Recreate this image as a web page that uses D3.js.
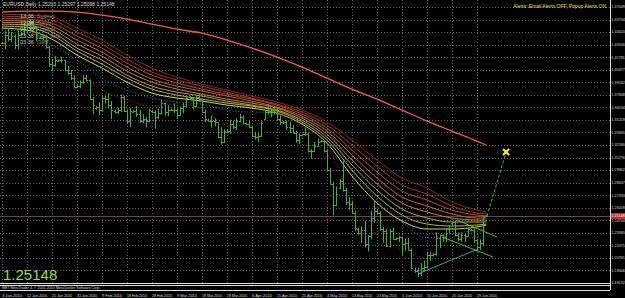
<!DOCTYPE html>
<html><head><meta charset="utf-8">
<script src="https://cdn.jsdelivr.net/npm/d3@7"></script>
<style>html,body{margin:0;padding:0;background:#000;overflow:hidden}svg{display:block}</style>
</head><body><svg id="c" width="625" height="298"></svg>
<script>
// ---------- DATA ----------
const dateLabels = ["3 Jan 2010","12 Jan 2010","21 Jan 2010","31 Jan 2010","9 Feb 2010","18 Feb 2010","28 Feb 2010","9 Mar 2010","18 Mar 2010","28 Mar 2010","6 Apr 2010","15 Apr 2010","25 Apr 2010","4 May 2010","13 May 2010","23 May 2010","1 Jun 2010","10 Jun 2010","20 Jun 2010","29 Jun 2010"];
const labelIdx = [0,8,16,24,32,40,48,56,64,72,80,88,96,104,112,120,128,136,144,152];
const priceTicks = [1.18132,1.19446,1.20761,1.22075,1.23390,1.24704,1.26018,1.27333,1.28647,1.29962,1.31276,1.32590,1.33905,1.35219,1.36534,1.37848,1.39162,1.40477,1.41791,1.43106,1.44420,1.45734,1.47049];
const lastPrice = 1.25148;
const headerText = "EURUSD,Daily  1.25203 1.25297 1.25098 1.25148";
const alertText = "Alerts: Email Alerts OFF, Popup Alerts ON";
const clockTimes = ["13:36","12:36","04:36","23:36","03:36"];
const clockNames = ["Sydney","Tokyo","London","New York","GMT"];
const copyright = "MBT MetaTrader 4, \u00a9 2001-2010 MetaQuotes Software Corp.";

const open = [
1.4325,1.4330,1.4415,1.4365,1.4405,1.4310, 1.4410,1.4435,1.4515,1.4495,1.4545,1.4495,
1.4380,1.4385,1.4390,1.4285,1.4105,1.4095, 1.4140,1.4150,1.4145,1.4040,1.4015,1.3960,
1.3870,1.3880,1.3920,1.3960,1.3935,1.3745, 1.3650,1.3655,1.3625,1.3755,1.3740,1.3675,
1.3620,1.3600,1.3630,1.3765,1.3620,1.3510, 1.3610,1.3620,1.3580,1.3510,1.3530,1.3515,
1.3620,1.3605,1.3550,1.3590,1.3700,1.3610, 1.3625,1.3630,1.3630,1.3575,1.3645,1.3665,
1.3765,1.3750,1.3665,1.3760,1.3740,1.3605, 1.3525,1.3515,1.3515,1.3495,1.3345,1.3290,
1.3400,1.3405,1.3480,1.3450,1.3510,1.3555, 1.3485,1.3480,1.3450,1.3355,1.3345,1.3355,
1.3530,1.3600,1.3610,1.3605,1.3630,1.3535, 1.3505,1.3495,1.3445,1.3440,1.3385,1.3310,
1.3360,1.3370,1.3375,1.3200,1.3195,1.3250, 1.3300,1.3300,1.3200,1.3000,1.2850,1.2635,
1.2810,1.2880,1.2790,1.2665,1.2640,1.2550, 1.2380,1.2340,1.2365,1.2225,1.2305,1.2490,
1.2570,1.2545,1.2380,1.2360,1.2200,1.2360, 1.2275,1.2280,1.2295,1.2225,1.2235,1.2160,
1.1950,1.1940,1.1915,1.1975,1.1985,1.2105, 1.2110,1.2115,1.2285,1.2315,1.2295,1.2375,
1.2440,1.2450,1.2315,1.2275,1.2315,1.2310, 1.2370,1.2365,1.2265,1.2190,1.2235,1.2520];
const high = [
1.4340,1.4450,1.4485,1.4445,1.4420,1.4460, 1.4440,1.4535,1.4550,1.4579,1.4565,1.4505,
1.4395,1.4420,1.4405,1.4295,1.4160,1.4190, 1.4155,1.4185,1.4150,1.4090,1.4045,1.3990,
1.3890,1.3935,1.3990,1.3995,1.3945,1.3760, 1.3665,1.3705,1.3780,1.3775,1.3800,1.3720,
1.3630,1.3650,1.3790,1.3775,1.3630,1.3645, 1.3625,1.3670,1.3625,1.3580,1.3550,1.3640,
1.3630,1.3620,1.3640,1.3735,1.3705,1.3675, 1.3640,1.3695,1.3635,1.3660,1.3700,1.3765,
1.3775,1.3755,1.3775,1.3795,1.3745,1.3630, 1.3535,1.3565,1.3540,1.3500,1.3445,1.3425,
1.3415,1.3525,1.3515,1.3540,1.3585,1.3570, 1.3495,1.3515,1.3460,1.3395,1.3385,1.3510,
1.3620,1.3690,1.3635,1.3650,1.3640,1.3570, 1.3515,1.3515,1.3505,1.3470,1.3410,1.3380,
1.3375,1.3440,1.3390,1.3215,1.3290,1.3325, 1.3310,1.3310,1.3215,1.3020,1.2875,1.2825,
1.2900,1.3095,1.2810,1.2715,1.2670,1.2570, 1.2395,1.2405,1.2465,1.2315,1.2570,1.2675,
1.2585,1.2565,1.2400,1.2380,1.2375,1.2395, 1.2290,1.2310,1.2300,1.2280,1.2285,1.2175,
1.1975,1.1975,1.2020,1.2045,1.2140,1.2140, 1.2125,1.2345,1.2320,1.2320,1.2385,1.2415,
1.2460,1.2470,1.2340,1.2345,1.2330,1.2385, 1.2380,1.2395,1.2275,1.2270,1.2515,1.2530];
const low = [
1.4315,1.4260,1.4345,1.4335,1.4263,1.4262, 1.4405,1.4410,1.4425,1.4460,1.4465,1.4345,
1.4370,1.4355,1.4270,1.4080,1.4030,1.4080, 1.4130,1.4120,1.4030,1.3995,1.3940,1.3855,
1.3860,1.3855,1.3900,1.3925,1.3730,1.3580, 1.3630,1.3575,1.3610,1.3695,1.3640,1.3530,
1.3590,1.3580,1.3605,1.3605,1.3480,1.3445, 1.3600,1.3555,1.3490,1.3485,1.3445,1.3500,
1.3595,1.3430,1.3530,1.3580,1.3565,1.3560, 1.3615,1.3595,1.3530,1.3565,1.3590,1.3660,
1.3740,1.3630,1.3655,1.3710,1.3595,1.3500, 1.3505,1.3440,1.3455,1.3330,1.3265,1.3280,
1.3390,1.3375,1.3425,1.3415,1.3500,1.3475, 1.3470,1.3435,1.3345,1.3315,1.3290,1.3345,
1.3520,1.3580,1.3550,1.3580,1.3515,1.3470, 1.3480,1.3415,1.3385,1.3380,1.3285,1.3270,
1.3350,1.3355,1.3180,1.3115,1.3185,1.3240, 1.3285,1.3180,1.2990,1.2845,1.2520,1.2620,
1.2800,1.2770,1.2630,1.2580,1.2535,1.2355, 1.2320,1.2235,1.2185,1.2145,1.2270,1.2445,
1.2530,1.2355,1.2235,1.2190,1.2185,1.2270, 1.2260,1.2240,1.2110,1.2150,1.2155,1.1960,
1.1920,1.1876,1.1885,1.1930,1.1965,1.2045, 1.2090,1.2100,1.2180,1.2245,1.2240,1.2335,
1.2420,1.2300,1.2250,1.2245,1.2245,1.2300, 1.2355,1.2235,1.2150,1.2160,1.2205,1.2510];
const close = [
1.4330,1.4415,1.4365,1.4405,1.4310,1.4415, 1.4435,1.4515,1.4495,1.4545,1.4495,1.4375,
1.4385,1.4390,1.4285,1.4105,1.4095,1.4145, 1.4150,1.4145,1.4040,1.4015,1.3960,1.3865,
1.3880,1.3920,1.3960,1.3935,1.3745,1.3675, 1.3655,1.3625,1.3755,1.3740,1.3675,1.3625,
1.3600,1.3630,1.3765,1.3620,1.3510,1.3615, 1.3620,1.3580,1.3510,1.3530,1.3515,1.3625,
1.3605,1.3550,1.3590,1.3700,1.3610,1.3625, 1.3630,1.3630,1.3575,1.3645,1.3665,1.3750,
1.3750,1.3665,1.3760,1.3740,1.3605,1.3530, 1.3515,1.3515,1.3495,1.3345,1.3290,1.3405,
1.3405,1.3480,1.3450,1.3510,1.3555,1.3485, 1.3480,1.3450,1.3355,1.3345,1.3355,1.3490,
1.3600,1.3610,1.3605,1.3630,1.3535,1.3505, 1.3495,1.3445,1.3440,1.3385,1.3310,1.3365,
1.3370,1.3375,1.3200,1.3195,1.3250,1.3295, 1.3300,1.3200,1.3000,1.2850,1.2635,1.2750,
1.2880,1.2790,1.2665,1.2640,1.2550,1.2385, 1.2340,1.2365,1.2225,1.2305,1.2490,1.2570,
1.2545,1.2380,1.2360,1.2200,1.2360,1.2275, 1.2280,1.2295,1.2225,1.2235,1.2160,1.1970,
1.1940,1.1915,1.1975,1.1985,1.2105,1.2110, 1.2115,1.2285,1.2315,1.2295,1.2375,1.2385,
1.2450,1.2315,1.2275,1.2315,1.2310,1.2375, 1.2365,1.2265,1.2190,1.2235,1.2505,1.25148];

// moving-average lines, sampled at these bar indices (values in price)
const maIdx = [0,8,16,24,32,40,48,56,64,72,80,88,96,104,112,120,128,136,144,152,155];
const ma200 = [1.4651,1.4662,1.4662,1.4651,1.4620,1.4578,1.4526,1.4473,1.4431,1.4358,1.4274,1.4180,1.4075,1.3960,1.3845,1.3740,1.3625,1.3510,1.3405,1.3300,1.3258];
const ribbon = [
 [1.4630,1.4620,1.4599,1.4484,1.4358,1.4201,1.4065,1.3970,1.3897,1.3834,1.3772,1.3709,1.3625,1.3499,1.3311,1.3101,1.2913,1.2808,1.2661,1.2578,1.2557],
 [1.4609,1.4599,1.4567,1.4442,1.4316,1.4159,1.4023,1.3939,1.3876,1.3813,1.3751,1.3688,1.3604,1.3468,1.3258,1.3038,1.2840,1.2745,1.2620,1.2546,1.2536],
 [1.4588,1.4578,1.4536,1.4400,1.4274,1.4117,1.3991,1.3908,1.3845,1.3792,1.3740,1.3677,1.3583,1.3436,1.3206,1.2976,1.2777,1.2682,1.2578,1.2525,1.2515],
 [1.4567,1.4557,1.4505,1.4358,1.4232,1.4075,1.3950,1.3876,1.3824,1.3772,1.3719,1.3656,1.3562,1.3405,1.3154,1.2913,1.2714,1.2620,1.2536,1.2494,1.2494],
 [1.4546,1.4536,1.4473,1.4316,1.4190,1.4033,1.3918,1.3845,1.3792,1.3740,1.3698,1.3646,1.3541,1.3374,1.3101,1.2850,1.2651,1.2557,1.2494,1.2473,1.2473],
 [1.4526,1.4515,1.4442,1.4274,1.4149,1.3991,1.3876,1.3813,1.3772,1.3719,1.3677,1.3625,1.3520,1.3342,1.3049,1.2787,1.2588,1.2494,1.2452,1.2452,1.2452],
 [1.4505,1.4494,1.4410,1.4243,1.4107,1.3960,1.3845,1.3782,1.3740,1.3698,1.3667,1.3614,1.3499,1.3311,1.2997,1.2724,1.2525,1.2431,1.2410,1.2421,1.2431],
 [1.4484,1.4463,1.4368,1.4201,1.4065,1.3918,1.3803,1.3751,1.3719,1.3677,1.3646,1.3593,1.3478,1.3279,1.2934,1.2651,1.2463,1.2379,1.2379,1.2400,1.2421]];
const ribbonColors = ["#8a2a1c","#a2391e","#b84e24","#c4692a","#c8862e","#c2a332","#b4b83a","#d6dc3c"];
const dotCyan = [1.4463,1.4442,1.4306,1.4149,1.3960,1.3834,1.3751,1.3709,1.3688,1.3625,1.3604,1.3604,1.3520,1.3415,1.2997,1.2682,1.2452,1.2285,1.2326,1.2368,1.2379];
const dotRed  = [1.4358,1.4463,1.4201,1.4023,1.3834,1.3730,1.3667,1.3688,1.3646,1.3468,1.3457,1.3583,1.3457,1.3258,1.2682,1.2316,1.2159,1.2075,1.2264,1.2295,1.2306];

// drawn objects (bar index, price)
const trendCyan = [[133.8,1.1918],[152.3,1.2169]];
const chanUpper = [[145.6,1.2473],[158.4,1.2295]];
const chanLower = [[140.8,1.2295],[157.1,1.2086]];
const projection = [[155.2,1.2515],[161.3,1.3185]];

// ---------- DRAW ----------
const svg = d3.select("#c");
const W = 625, H = 298, plotR = 610, plotB = 283;
svg.append("rect").attr("width",W).attr("height",H).attr("fill","#000");

const x = d3.scaleLinear().domain([0,155]).range([2, 2+155*3.125]);
const y = d3.scaleLinear().domain([priceTicks[0], priceTicks[priceTicks.length-1]]).range([plotB, 7]);

const g = svg.append("g");
// grid
g.selectAll("line.hg").data(priceTicks).join("line")
  .attr("x1",0).attr("x2",plotR).attr("y1",d=>Math.round(y(d))+0.5).attr("y2",d=>Math.round(y(d))+0.5)
  .attr("stroke","#6a6a6a").attr("stroke-width",1).attr("stroke-dasharray","1,2");
g.selectAll("line.vg").data(labelIdx).join("line")
  .attr("x1",d=>Math.round(x(d))+0.5).attr("x2",d=>Math.round(x(d))+0.5).attr("y1",0).attr("y2",plotB)
  .attr("stroke","#6a6a6a").attr("stroke-width",1).attr("stroke-dasharray","1,2");

// current price line
g.append("line").attr("x1",0).attr("x2",plotR).attr("y1",Math.round(y(lastPrice))+0.5).attr("y2",Math.round(y(lastPrice))+0.5)
  .attr("stroke","#6e4444").attr("stroke-width",1);

const line = d3.line().x((d,i)=>x(maIdx[i])).y(d=>y(d)).curve(d3.curveMonotoneX);
g.append("path").attr("d",line(ma200)).attr("fill","none").attr("stroke","#f0604f").attr("stroke-width",1.3);
ribbon.forEach((r,k)=>{
  g.append("path").attr("d",line(r)).attr("fill","none").attr("stroke",ribbonColors[k]).attr("stroke-width",1);
});
g.append("path").attr("d",line(dotCyan)).attr("fill","none").attr("stroke","#2f8fa0").attr("stroke-width",1).attr("stroke-dasharray","1,2");
g.append("path").attr("d",line(dotRed)).attr("fill","none").attr("stroke","#8a3020").attr("stroke-width",1).attr("stroke-dasharray","1,2");

// OHLC bars
const idx = d3.range(open.length);
const bars = g.append("g").attr("stroke","#3fb03f").attr("stroke-width",1);
bars.selectAll("line.hl").data(idx).join("line")
  .attr("x1",i=>Math.round(x(i))+0.5).attr("x2",i=>Math.round(x(i))+0.5)
  .attr("y1",i=>y(high[i])).attr("y2",i=>y(low[i]));
bars.selectAll("line.o").data(idx).join("line")
  .attr("x1",i=>Math.round(x(i))-1).attr("x2",i=>Math.round(x(i))+0.5)
  .attr("y1",i=>Math.round(y(open[i]))+0.5).attr("y2",i=>Math.round(y(open[i]))+0.5);
bars.selectAll("line.c").data(idx).join("line")
  .attr("x1",i=>Math.round(x(i))+0.5).attr("x2",i=>Math.round(x(i))+2)
  .attr("y1",i=>Math.round(y(close[i]))+0.5).attr("y2",i=>Math.round(y(close[i]))+0.5);

// trendlines
const seg = (p,col,dash)=>g.append("line").attr("x1",x(p[0][0])).attr("y1",y(p[0][1])).attr("x2",x(p[1][0])).attr("y2",y(p[1][1]))
  .attr("stroke",col).attr("stroke-width",1).attr("stroke-dasharray",dash||null);
seg(trendCyan,"#3aa0b0");
seg(chanUpper,"#3fbf3f");
seg(chanLower,"#3fbf3f");
seg(projection,"#3fbf3f","3,2");
// yellow X
const px = x(projection[1][0]), py = y(projection[1][1]);
g.append("path").attr("d",`M${px-3},${py-3}L${px+3},${py+3}M${px+3},${py-3}L${px-3},${py+3}`)
  .attr("stroke","#ffff00").attr("stroke-width",2);

// texts
const font = "Liberation Sans, Arial, sans-serif";
svg.append("text").attr("x",3).attr("y",6).attr("fill","#dddddd").attr("font-family",font).attr("font-size",5).text(headerText);
svg.append("text").attr("x",606).attr("y",8).attr("text-anchor","end").attr("fill","#e6e640").attr("font-family",font).attr("font-size",5).text(alertText);
clockTimes.forEach((t,i)=>{
  svg.append("text").attr("x",20).attr("y",18+i*6.6).attr("fill","#cccccc").attr("font-family",font).attr("font-size",5.5).text(t);
  svg.append("text").attr("x",37).attr("y",18+i*6.6).attr("fill","#888888").attr("font-family",font).attr("font-size",5.5).text(clockNames[i]);
});
svg.append("text").attr("x",3).attr("y",280).attr("fill","#8fe03a").attr("font-family",font).attr("font-size",15).text(lastPrice.toFixed(5));

// frame
svg.append("line").attr("x1",plotR+0.5).attr("x2",plotR+0.5).attr("y1",0).attr("y2",290).attr("stroke","#e0e0e0");
svg.append("line").attr("x1",0).attr("x2",plotR).attr("y1",plotB+0.5).attr("y2",plotB+0.5).attr("stroke","#e0e0e0");
svg.append("line").attr("x1",0).attr("x2",plotR).attr("y1",285.5).attr("y2",285.5).attr("stroke","#e0e0e0");
svg.append("line").attr("x1",0).attr("x2",plotR).attr("y1",290.5).attr("y2",290.5).attr("stroke","#e0e0e0");
svg.append("text").attr("x",2).attr("y",289.3).attr("fill","#dddddd").attr("font-family",font).attr("font-size",3.6).text(copyright);

// price axis
svg.selectAll("text.pt").data(priceTicks).join("text")
  .attr("x",611.5).attr("y",d=>y(d)+1.4).attr("fill","#dddddd").attr("font-family",font).attr("font-size",3.7)
  .text(d=>d.toFixed(5));
svg.append("rect").attr("x",611).attr("y",y(lastPrice)-3).attr("width",14).attr("height",6).attr("fill","#c03030");
svg.append("text").attr("x",611.5).attr("y",y(lastPrice)+1.4).attr("fill","#ffffff").attr("font-family",font).attr("font-size",3.7)
  .text(lastPrice.toFixed(5));

// time axis
svg.selectAll("text.dt").data(labelIdx).join("text")
  .attr("x",(d)=>x(d)).attr("y",296.5).attr("fill","#dddddd").attr("font-family",font).attr("font-size",4)
  .attr("textLength",20).attr("lengthAdjust","spacingAndGlyphs")
  .text((d,i)=>dateLabels[i]);
</script></body></html>
